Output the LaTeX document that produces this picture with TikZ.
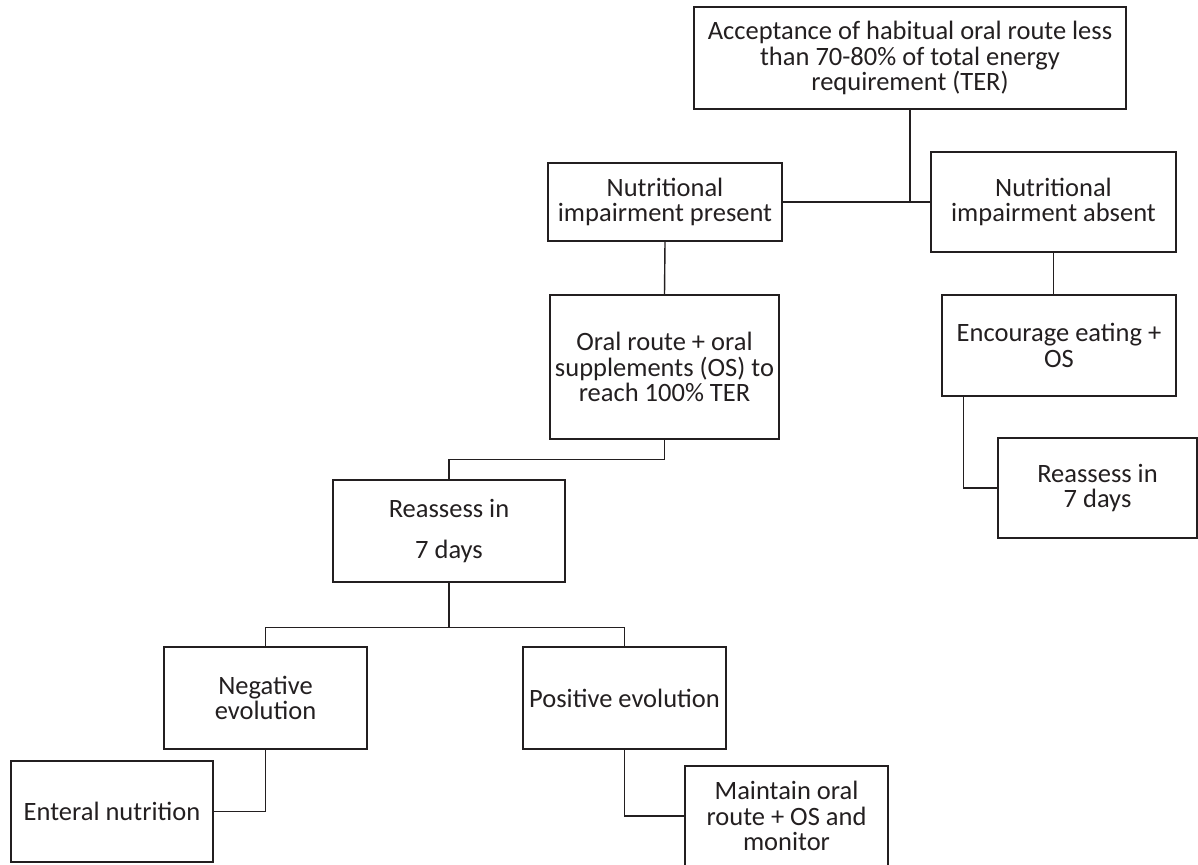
\documentclass[tikz,border=0pt]{standalone}
\usepackage{fontspec}
\setmainfont{Carlito}
\usetikzlibrary{positioning}
\definecolor{ink}{RGB}{35,31,32}

\tikzset{
  box/.style={draw=ink, text=ink, line width=1.4pt, align=center, inner sep=0pt,
    font=\fontsize{26.5}{25.5}\selectfont},
  link/.style={draw=ink, line width=1.4pt}
}

\begin{document}
\begin{tikzpicture}[x=1pt,y=-1pt]
\useasboundingbox (0,0) rectangle (1198,864);
% boxes
\node[box, minimum width=432, minimum height=102] (accept) at (910,58)
  {Acceptance of habitual oral route less\\than 70-80\% of total energy\\requirement (TER)};
\node[box, minimum width=234, minimum height=78] (present) at (665,202)
  {Nutritional\\impairment present};
\node[box, minimum width=245, minimum height=100] (absent) at (1053.5,202)
  {Nutritional\\impairment absent};
\node[box, minimum width=229, minimum height=144] (oral) at (664.5,367)
  {Oral route + oral\\supplements (OS) to\\reach 100\% TER};
\node[box, minimum width=234, minimum height=101] (encourage) at (1059,345.5)
  {Encourage eating +\\OS};
\node[box, minimum width=199, minimum height=100] (reassR) at (1097.5,488)
  {Reassess in\\7 days};
\node[box, minimum width=232, minimum height=102] (reassL) at (449,531)
  {Reassess in\\[15pt]7 days};
\node[box, minimum width=203, minimum height=102] (negative) at (265.5,698)
  {Negative\\evolution};
\node[box, minimum width=203, minimum height=102] (positive) at (624.5,698)
  {Positive evolution};
\node[box, minimum width=202, minimum height=101] (enteral) at (112,811.5)
  {Enteral nutrition};
\node[box, minimum width=203, minimum height=100] (maintain) at (786.5,816)
  {Maintain oral\\route + OS and\\monitor};
% connectors
\draw[link] (accept.south) -- (accept.south |- present.east);
\draw[link] (present.east) -- (absent.west);
\draw[link] (present.south) -- (oral.north);
\draw[link] (absent.south) -- (absent.south |- encourage.north);
\draw[link] (oral.south) -- ++(0,20) -| (reassL.north);
\draw[link] ([xshift=22pt]encourage.south west) |- (reassR.west);
\draw[link] (reassL.south) -- ++(0,45) coordinate (split);
\draw[link] (negative.north) |- (split) -| (positive.north);
\draw[link] (negative.south) |- (enteral.east);
\draw[link] (positive.south) |- (maintain.west);
\end{tikzpicture}
\end{document}
